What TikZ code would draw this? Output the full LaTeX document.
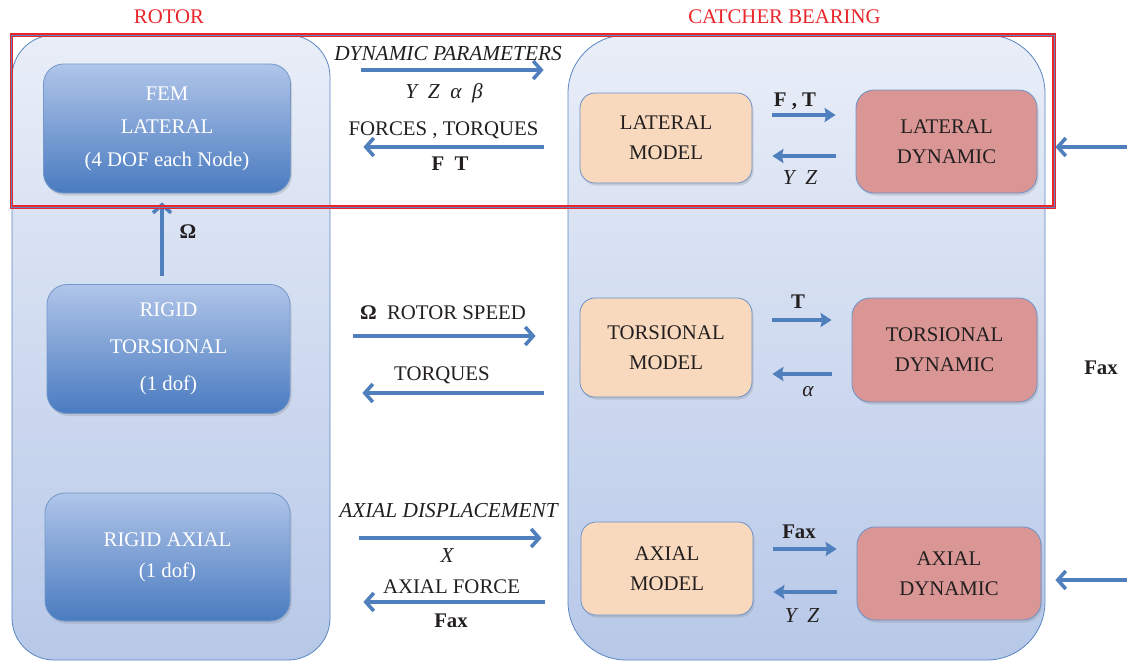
\documentclass[tikz,border=0pt]{standalone}
\usepackage{fontspec}
\setmainfont{Liberation Serif}
\usetikzlibrary{arrows.meta, shadows}

\definecolor{flowblue}{HTML}{4F7FBD}
\definecolor{edgeblue}{HTML}{5B86C2}
\definecolor{boxtop}{HTML}{B0C5E9}
\definecolor{boxbot}{HTML}{4A7BC0}
\definecolor{paletop}{HTML}{E9EEF8}
\definecolor{palebot}{HTML}{B7C8E8}
\definecolor{peach}{HTML}{F9D9BD}
\definecolor{rose}{HTML}{D99694}
\definecolor{titlered}{HTML}{E8262B}
\definecolor{ink}{HTML}{231F20}

\newcommand{\lblfont}{\fontsize{20.8}{23}\selectfont}
\newcommand{\itfont}{\fontsize{21.3}{23}\selectfont\itshape}

\tikzset{
  txt/.style={font=\lblfont, text=ink, inner sep=0pt},
  txtit/.style={txt, font=\itfont},
  txtbf/.style={txt, font=\lblfont\bfseries},
  container/.style={draw=edgeblue, line width=0.8pt, top color=paletop, bottom color=palebot, inner sep=0pt},
  shade box/.style={drop shadow={opacity=0.25, shadow xshift=1.5pt, shadow yshift=-2.5pt}},
  rotorbox/.style={draw=edgeblue!85, line width=0.8pt, top color=boxtop, bottom color=boxbot,
    rounded corners=20pt, inner sep=0pt, align=center, text=white, shade box,
    font=\fontsize{20.8}{33}\selectfont},
  modelbox/.style={draw=edgeblue!90, line width=0.8pt, fill=peach, rounded corners=15pt,
    inner sep=0pt, align=center, text=ink, shade box, font=\fontsize{20.8}{30}\selectfont},
  dynbox/.style={modelbox, fill=rose, rounded corners=18pt},
  flow/.style={draw=flowblue, line width=3.6pt, -{Straight Barb[length=8pt,width=18pt]}},
  link/.style={draw=flowblue, line width=3.4pt, -{Stealth[length=11pt,width=14pt,inset=1.5pt]},
    shorten <=20pt, shorten >=20pt},
}

\begin{document}
\begin{tikzpicture}[x=1pt, y=-1pt]
  \useasboundingbox (0,0) rectangle (1127,662);

  % the two sub-systems
  \node[container, rounded corners=42pt, minimum width=318pt, minimum height=625pt] (rotor) at (171,347.5) {};
  \node[container, rounded corners=58pt, minimum width=477pt, minimum height=625pt] (catcher) at (806.5,347.5) {};
  \node[txt, text=titlered] (rotor-t) at (169,17) {ROTOR};
  \node[txt, text=titlered] (catcher-t) at (784.5,17) {CATCHER BEARING};

  % rotor models
  \node[rotorbox, minimum width=247pt, minimum height=129pt] (fem) at (167,128.5) {FEM\\LATERAL\\(4 DOF each Node)};
  \node[rotorbox, minimum width=243pt, minimum height=129pt, font=\fontsize{20.8}{37}\selectfont] (tors) at (168.5,349) {RIGID\\TORSIONAL\\(1 dof)};
  \node[rotorbox, minimum width=245pt, minimum height=128pt, font=\fontsize{20.8}{31}\selectfont] (axial) at (167.5,557) {RIGID AXIAL\\(1 dof)};

  \coordinate (omega-x) at (162,0);
  \draw[flow, shorten <=8pt, shorten >=9pt] (tors.north -| omega-x) -- (fem.south -| omega-x);
  \node[txtbf] (omega) at (188,232) {Ω};

  % catcher bearing models
  \node[modelbox, minimum width=172pt, minimum height=90pt] (latmod) at (666,138) {LATERAL\\MODEL};
  \node[dynbox, minimum width=181pt, minimum height=103pt] (latdyn) at (946.5,141.5) {LATERAL\\DYNAMIC};
  \node[modelbox, minimum width=172pt, minimum height=99pt] (tormod) at (666,347.5) {TORSIONAL\\MODEL};
  \node[dynbox, minimum width=185pt, minimum height=104pt] (tordyn) at (944.5,350) {TORSIONAL\\DYNAMIC};
  \node[modelbox, minimum width=172pt, minimum height=93pt] (axmod) at (667,568.5) {AXIAL\\MODEL};
  \node[dynbox, minimum width=184pt, minimum height=93pt] (axdyn) at (949,573.5) {AXIAL\\DYNAMIC};

  % rotor <-> catcher bearing
  \draw[flow, shorten <=31pt, shorten >=24pt] (rotor.east |- 0,70) -- (catcher.west |- 0,70);
  \draw[flow, shorten <=24pt, shorten >=33pt] (catcher.west |- 0,147) -- (rotor.east |- 0,147);
  \node[txtit] (dp) at (448,54) {DYNAMIC PARAMETERS};
  \node[txtit] (dp-v) at (444,93) {Y\ \ Z\ \ α\ \ β};
  \node[txt] (ft) at (443.5,130) {FORCES , TORQUES};
  \node[txtbf] (ft-v) at (450,164) {F\ \ T};

  \draw[flow, shorten <=23pt, shorten >=32pt] (rotor.east |- 0,336) -- (catcher.west |- 0,336);
  \draw[flow, shorten <=24pt, shorten >=32pt] (catcher.west |- 0,393) -- (rotor.east |- 0,393);
  \node[txt] (speed) at (443,313) {\textbf{Ω}\ \ ROTOR SPEED};
  \node[txt] (torq) at (442,375) {TORQUES};

  \draw[flow, shorten <=29pt, shorten >=26pt] (rotor.east |- 0,538) -- (catcher.west |- 0,538);
  \draw[flow, shorten <=23pt, shorten >=33pt] (catcher.west |- 0,602) -- (rotor.east |- 0,602);
  \node[txtit] (ad) at (448.5,511) {AXIAL DISPLACEMENT};
  \node[txtit] (ad-v) at (447,556) {X};
  \node[txt] (af) at (451.5,587) {AXIAL FORCE};
  \node[txtbf] (af-v) at (451,621) {Fax};

  % model <-> dynamic
  \draw[link] (latmod.east |- 0,115) -- (latdyn.west |- 0,115);
  \draw[link] (latdyn.west |- 0,156) -- (latmod.east |- 0,156);
  \node[txtbf] (lat-f) at (795,101) {F , T};
  \node[txtit] (lat-y) at (800,178) {Y\ \ Z};

  \draw[link] (tormod.east |- 0,320) -- (tordyn.west |- 0,320);
  \draw[link] (tordyn.west |- 0,374) -- (tormod.east |- 0,374);
  \node[txtbf] (tor-t) at (798,302) {T};
  \node[txtit] (tor-a) at (808,392) {α};

  \draw[link] (axmod.east |- 0,549) -- (axdyn.west |- 0,549);
  \draw[link] (axdyn.west |- 0,592) -- (axmod.east |- 0,592);
  \node[txtbf] (ax-f) at (799,532) {Fax};
  \node[txtit] (ax-y) at (802,616) {Y\ \ Z};

  % external loads
  \coordinate (in-lat) at (1127,147);
  \coordinate (in-ax) at (1127,580);
  \draw[flow, shorten >=10pt] (in-lat) -- (catcher.east |- in-lat);
  \draw[flow, shorten >=10pt] (in-ax) -- (catcher.east |- in-ax);
  \node[txtbf] (fax) at (1101,368) {Fax};

  % lateral loop highlight
  \draw[titlered, line width=3.4pt] (11.5,35) rectangle (1054,207);
  \draw[edgeblue, line width=1pt] (11.5,35) rectangle (1054,207);
\end{tikzpicture}
\end{document}
